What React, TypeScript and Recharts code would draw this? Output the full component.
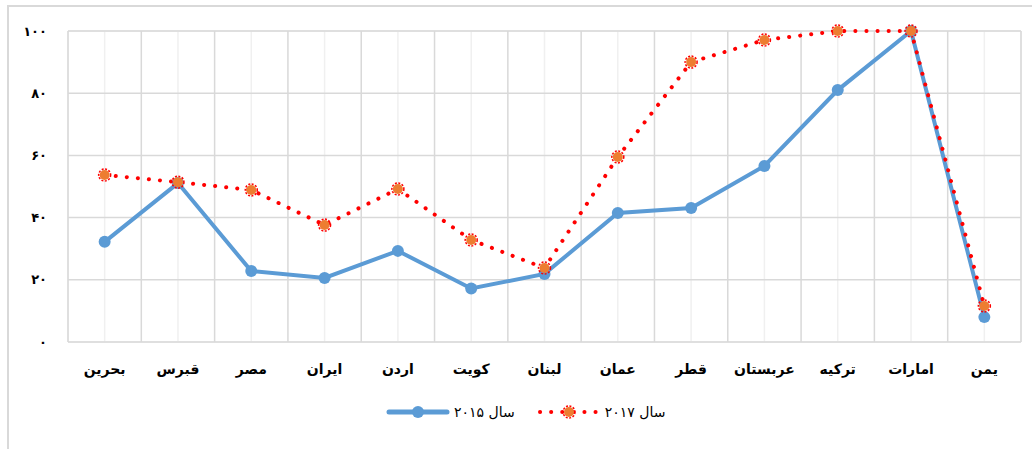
import { CartesianGrid, Legend, Line, LineChart, XAxis, YAxis } from "recharts";

const countries = [
  "بحرین",
  "قبرس",
  "مصر",
  "ایران",
  "اردن",
  "کویت",
  "لبنان",
  "عمان",
  "قطر",
  "عربستان",
  "ترکیه",
  "امارات",
  "یمن",
];
const values2015 = [32.2, 51.1, 22.8, 20.6, 29.3, 17.2, 21.9, 41.5, 43.1, 56.6, 81.0, 100, 8.0];
const values2017 = [53.7, 51.4, 48.9, 37.6, 49.2, 32.8, 23.8, 59.5, 90.0, 97.1, 100, 100, 11.6];

const yTicks = [0, 20, 40, 60, 80, 100];
const yTickLabels = ["۰", "۲۰", "۴۰", "۶۰", "۸۰", "۱۰۰"];
const yMinorTicks = [0, 4, 8, 12, 16, 20, 24, 28, 32, 36, 40, 44, 48, 52, 56, 60, 64, 68, 72, 76, 80, 84, 88, 92, 96, 100];
const xBoundaryTicks = [0, 1, 2, 3, 4, 5, 6, 7, 8, 9, 10, 11, 12, 13];

const label2015 = "سال ۲۰۱۵";
const label2017 = "سال ۲۰۱۷";

const data = countries.map((name, i) => ({
  name,
  pos: i + 0.5,
  y2015: values2015[i],
  y2017: values2017[i],
}));

const BLUE = "#5B9BD5";
const RED = "#FF0000";
const ORANGE = "#ED7D31";
const FONT = "'DejaVu Sans', sans-serif";

function BurstDot(props: any) {
  const { cx, cy } = props;
  if (cx == null || cy == null) return null;
  return (
    <g>
      <circle cx={cx} cy={cy} r={5} fill={ORANGE} />
      <circle cx={cx} cy={cy} r={6} fill="none" stroke={RED} strokeWidth={1.5} strokeDasharray="2 1.5" />
    </g>
  );
}

function LegendBox() {
  const item = (color: string, dotted: boolean, text: string, gap: number) => (
    <div style={{ display: "flex", alignItems: "center", marginRight: gap }}>
      <svg width={64} height={14}>
        <line
          x1={3}
          y1={7}
          x2={61}
          y2={7}
          stroke={color}
          strokeWidth={dotted ? 4 : 5}
          strokeLinecap="round"
          strokeDasharray={dotted ? "0.1 11" : undefined}
        />
        {dotted ? (
          <g>
            <circle cx={32} cy={7} r={5} fill={ORANGE} />
            <circle cx={32} cy={7} r={6} fill="none" stroke={RED} strokeWidth={1.5} strokeDasharray="2 1.5" />
          </g>
        ) : (
          <circle cx={32} cy={7} r={6} fill={BLUE} />
        )}
      </svg>
      <span style={{ fontFamily: FONT, fontSize: 14, color: "#000", marginLeft: 4 }}>{text}</span>
    </div>
  );
  return (
    <div style={{ display: "flex", justifyContent: "flex-start", alignItems: "center", height: 40, paddingLeft: 386 }}>
      {item(BLUE, false, label2015, 22)}
      {item(RED, true, label2017, 0)}
    </div>
  );
}

export default function App() {
  return (
    <div
      style={{
        position: "absolute",
        left: 0,
        top: 0,
        width: 1032,
        height: 449,
        overflow: "hidden",
        background: "#fff",
      }}
    >
      <div
        style={{
          position: "absolute",
          left: 7,
          top: 5,
          width: 1100,
          height: 500,
          border: "2px solid #D9D9D9",
        }}
      />
      <div style={{ position: "absolute", left: 0, top: 0 }}>
        <LineChart width={1032} height={449} data={data} margin={{ top: 31, right: 11, bottom: 17, left: 0 }}>
          <XAxis
            xAxisId="cat"
            dataKey="name"
            scale="band"
            height={50}
            tickLine={false}
            axisLine={false}
            tickMargin={16}
            interval={0}
            tick={{ fontFamily: FONT, fontSize: 14, fontWeight: 700, fill: "#000" }}
          />
          <XAxis xAxisId="num" dataKey="pos" type="number" domain={[0, 13]} ticks={xBoundaryTicks} hide />
          <YAxis
            yAxisId="main"
            domain={[0, 100]}
            ticks={yTicks}
            width={68}
            tickLine={false}
            axisLine={false}
            tickMargin={15}
            tickFormatter={(v: number) => yTickLabels[yTicks.indexOf(v)]}
            tick={{ fontFamily: FONT, fontSize: 13, fontWeight: 700, fill: "#000" }}
          />
          <YAxis yAxisId="minor" domain={[0, 100]} ticks={yMinorTicks} hide />
          <CartesianGrid xAxisId="cat" yAxisId="minor" stroke="#F0F0F0" strokeWidth={1.5} />
          <CartesianGrid xAxisId="num" yAxisId="main" stroke="#D9D9D9" strokeWidth={1.5} />
          <Legend verticalAlign="bottom" height={40} content={() => <LegendBox />} />
          <Line
            xAxisId="cat"
            yAxisId="main"
            type="linear"
            dataKey="y2015"
            name={label2015}
            stroke={BLUE}
            strokeWidth={4}
            dot={{ r: 6, fill: BLUE, stroke: BLUE, strokeWidth: 0 }}
            activeDot={false}
            isAnimationActive={false}
          />
          <Line
            xAxisId="cat"
            yAxisId="main"
            type="linear"
            dataKey="y2017"
            name={label2017}
            stroke={RED}
            strokeWidth={4}
            strokeLinecap="round"
            strokeDasharray="0.1 11"
            dot={<BurstDot />}
            activeDot={false}
            isAnimationActive={false}
          />
        </LineChart>
      </div>
    </div>
  );
}
